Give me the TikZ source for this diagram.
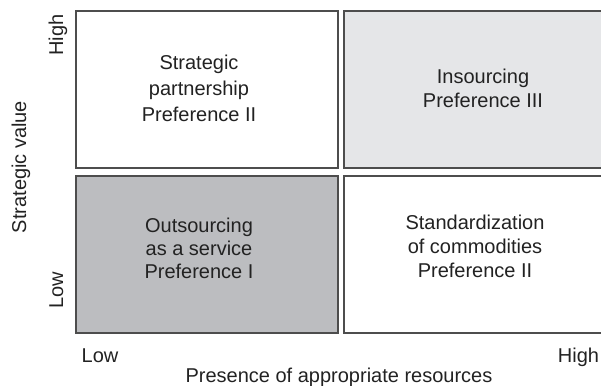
\documentclass[tikz,border=0pt]{standalone}
\usepackage{fontspec}
\setmainfont{Liberation Sans}
\definecolor{edgegray}{HTML}{4D4D4D}
\definecolor{darkfill}{HTML}{BCBDC0}
\definecolor{lightfill}{HTML}{E5E6E8}
\definecolor{txt}{HTML}{222222}
\begin{document}
\begin{tikzpicture}[x=1pt,y=-1pt,
  cell/.style={draw=edgegray, line width=2.4pt, rectangle, minimum width=262pt, minimum height=157pt, inner sep=0pt},
  celltext/.style={align=center, anchor=north, inner sep=0pt, text=txt},
  lbl/.style={anchor=base, text=txt, font=\fontsize{20}{24}\selectfont}]
\useasboundingbox (0,0) rectangle (601,385);
% cells
\node[cell, fill=white] (tl) at (207,89.5) {};
\node[cell, fill=lightfill, minimum width=261pt] (tr) at (474.5,89.5) {};
\node[cell, fill=darkfill] (bl) at (207,254.5) {};
\node[cell, fill=white, minimum width=261pt] (br) at (474.5,254.5) {};
% cell texts
\node[celltext, font=\fontsize{20}{26}\selectfont] (tlt) at (199,54.5) {Strategic\\partnership\\Preference II};
\node[celltext, font=\fontsize{20}{24}\selectfont] (trt) at (483,68.5) {Insourcing\\Preference III};
\node[celltext, font=\fontsize{20}{23.3}\selectfont] (blt) at (199,217.5) {Outsourcing\\as a service\\Preference I};
\node[celltext, font=\fontsize{20}{24}\selectfont] (brt) at (475,214.5) {Standardization\\of commodities\\Preference II};
% axis labels
\node[lbl, rotate=90] (yhigh) at (63,35) {High};
\node[lbl, rotate=90] (ylow) at (63,290.5) {Low};
\node[lbl, rotate=90] (ytitle) at (26,167) {Strategic value};
\node[lbl] (xlow) at (100,362) {Low};
\node[lbl] (xhigh) at (578.5,362) {High};
\node[lbl] (xtitle) at (339,382) {Presence of appropriate resources};
\end{tikzpicture}
\end{document}
